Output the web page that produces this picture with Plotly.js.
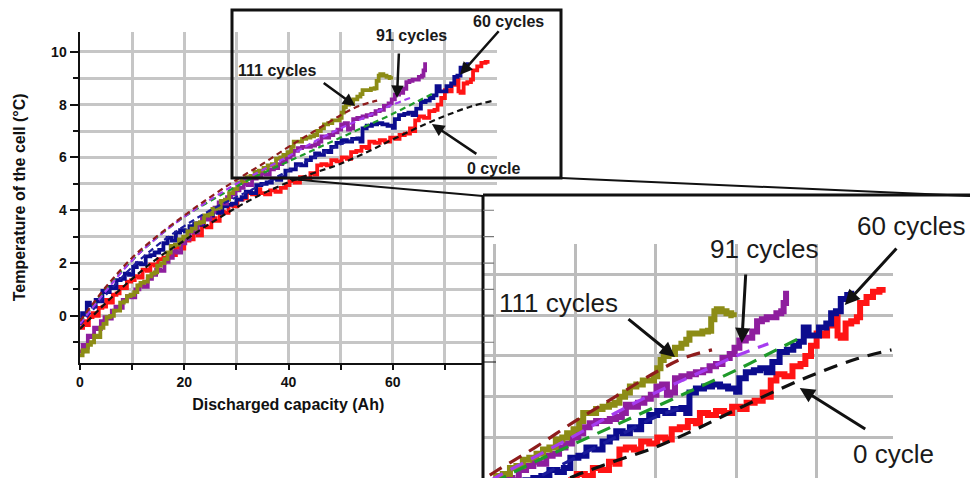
<!DOCTYPE html>
<html>
<head>
<meta charset="utf-8">
<script src="https://cdn.plot.ly/plotly-3.0.1.min.js"></script>
<style>
  html, body { margin: 0; padding: 0; background: #fff; }
  #chart { width: 970px; height: 478px; }
</style>
</head>
<body>
<div id="chart"></div>
<script>
// Cell temperature versus discharged capacity after 0, 60, 91 and 111 cycles,
// measured curves (solid) and fitted models (dashed), with a magnified view.

// ---- measured curves ----
const cycle0Ah = [0.0,0.6,1.1,1.7,2.4,3.0,3.6,4.3,5.0,5.6,6.3,7.0,7.6,8.3,9.0,9.8,10.5,11.3,12.0,12.8,13.5,14.3,15.0,16.0,16.8,17.6,18.4,19.2,20.0,21.0,21.8,22.6,23.4,24.3,25.2,26.0,26.8,27.6,28.5,29.4,30.2,31.2,32.0,33.0,34.0,34.6,35.5,36.5,37.5,38.5,39.5,40.2,41.2,42.2,43.2,44.2,45.0,45.5,46.3,47.3,48.2,49.2,50.2,51.2,52.0,53.0,54.0,55.0,55.5,56.5,57.5,58.5,59.5,60.5,61.3,62.3,63.3,63.8,64.3,65.0,66.0,67.0,68.0,68.6,69.3,70.0,70.8,71.3,72.0,72.6,73.0,73.6,74.3,75.0,75.4,76.2,77.0,77.8,78.2];
const cycle0T  = [-0.45,-0.2,-0.35,-0.05,0.1,0.0,0.3,0.35,0.6,0.5,0.8,0.85,1.1,1.05,1.3,1.35,1.5,1.45,1.75,1.7,1.95,1.9,2.15,2.2,2.35,2.3,2.6,2.55,2.85,2.9,3.15,3.05,3.4,3.35,3.7,3.6,3.95,3.9,4.2,4.15,4.4,4.45,4.65,4.6,4.8,4.65,4.6,4.75,4.7,4.85,4.95,5.1,5.05,5.25,5.2,5.4,5.35,5.7,5.75,5.7,5.9,5.85,6.0,5.95,6.2,6.25,6.4,6.35,6.6,6.55,6.65,6.6,6.75,6.7,6.85,6.9,7.1,7.0,7.4,7.55,7.5,7.75,7.8,8.0,8.25,8.55,8.5,8.75,8.95,8.5,8.45,8.8,8.85,8.95,9.3,9.45,9.58,9.62,9.55];

const cycle60Ah = [0.0,0.4,0.9,1.3,1.9,2.5,3.0,3.6,4.3,5.0,5.7,6.4,7.0,7.8,8.6,9.4,10.2,10.9,11.7,12.6,13.5,14.3,15.2,16.0,16.8,17.6,18.4,19.2,20.1,21.0,21.9,22.8,23.7,24.6,25.5,26.4,27.3,28.2,29.1,30.0,31.0,31.8,32.8,33.8,34.8,35.8,36.8,37.8,38.6,39.4,40.4,41.4,42.4,43.4,44.3,45.1,45.9,46.8,47.6,48.2,49.2,50.2,51.2,52.2,53.2,53.8,54.2,55.0,56.0,57.0,58.0,59.0,60.0,60.4,61.2,62.2,63.0,63.8,64.5,65.4,66.3,67.1,67.8,68.4,69.0,69.6,70.3,71.2,71.8,72.4,73.0,73.8,74.3];
const cycle60T  = [-0.15,0.1,0.05,0.5,0.4,0.35,0.6,0.55,0.95,0.9,1.1,1.05,1.35,1.4,1.6,1.55,1.85,2.0,1.95,2.25,2.3,2.4,2.5,2.75,2.95,2.85,3.15,3.25,3.2,3.4,3.5,3.45,3.75,3.8,3.95,3.9,4.15,4.2,4.25,4.4,4.5,4.7,4.65,4.95,5.0,5.05,5.2,5.15,5.25,5.5,5.55,5.75,5.7,5.9,6.0,6.15,6.1,6.25,6.2,6.4,6.55,6.65,6.6,6.7,6.72,6.6,7.1,7.2,7.25,7.3,7.25,7.2,7.12,7.45,7.6,7.65,7.7,7.6,7.85,8.1,8.15,8.25,8.35,8.7,8.5,8.5,8.7,8.8,9.05,9.1,9.4,9.5,9.6];

const cycle91Ah = [0.0,0.5,1.0,1.5,2.1,2.7,3.3,4.0,4.7,5.4,6.1,6.8,7.5,8.2,9.0,9.8,10.6,11.4,12.2,13.0,13.8,14.6,15.4,16.2,17.0,17.8,18.6,19.4,20.2,21.0,21.8,22.6,23.4,24.2,25.0,25.8,26.6,27.4,28.2,29.0,29.8,30.6,31.4,32.2,33.0,33.9,34.8,35.6,36.4,37.2,38.0,38.8,39.6,40.4,41.0,41.8,42.6,43.5,44.3,45.1,45.8,46.3,47.0,47.8,48.6,49.4,50.1,50.8,51.4,51.8,52.4,53.2,54.2,55.0,55.9,56.7,57.5,58.3,59.2,59.8,60.4,61.2,62.0,62.6,63.2,63.8,64.5,65.0,65.6,65.9,66.2];
const cycle91T  = [-1.35,-1.1,-1.2,-0.75,-0.8,-0.45,-0.5,-0.2,-0.05,-0.1,0.2,0.35,0.3,0.6,0.75,0.7,1.0,1.15,1.1,1.4,1.55,1.75,1.7,2.05,2.2,2.45,2.4,2.75,2.9,3.2,3.15,3.5,3.7,3.65,3.95,4.1,4.3,4.25,4.5,4.6,4.75,4.85,5.0,4.95,5.2,5.3,5.4,5.35,5.55,5.6,5.75,5.85,6.0,6.1,6.25,6.35,6.4,6.4,6.45,6.5,6.6,6.8,6.75,6.85,6.95,7.05,7.25,7.3,7.05,7.1,7.45,7.5,7.55,7.6,7.65,7.75,7.8,7.95,8.05,8.2,8.38,8.45,8.6,8.85,8.9,8.95,8.95,9.05,9.1,9.3,9.6];

const cycle111Ah = [0.0,0.5,1.0,1.5,2.1,2.7,3.3,3.9,4.5,5.1,5.8,6.5,7.1,7.7,8.4,9.0,9.7,10.4,11.0,11.6,12.3,13.0,13.7,14.3,14.8,15.5,16.2,16.8,17.4,18.2,19.0,19.8,20.6,21.4,22.2,23.0,23.8,24.6,25.4,26.2,27.0,27.8,28.6,29.4,30.2,31.0,31.9,32.7,33.5,34.3,35.2,36.0,36.8,37.6,38.4,39.0,39.8,40.5,41.0,41.8,42.6,43.4,44.2,44.9,45.5,46.2,46.8,47.6,48.4,49.2,49.8,50.2,50.6,51.0,51.6,52.4,53.2,53.8,54.2,55.0,55.8,56.5,56.9,57.3,57.6,58.2,58.8,59.4,59.7];
const cycle111T  = [-1.5,-1.3,-1.35,-1.1,-1.0,-0.75,-0.8,-0.45,-0.3,-0.05,0.0,0.2,0.2,0.5,0.55,0.75,0.8,0.9,1.15,1.25,1.3,1.5,1.6,1.65,1.9,2.0,2.15,2.4,2.65,2.7,2.9,3.0,3.2,3.3,3.5,3.55,3.8,3.85,4.05,4.1,4.35,4.4,4.65,4.8,5.05,5.1,5.25,5.3,5.45,5.5,5.6,5.7,5.75,5.95,6.0,6.1,6.2,6.4,6.6,6.6,6.7,6.75,6.8,6.85,7.0,7.1,7.25,7.3,7.4,7.4,7.5,7.7,7.9,8.0,8.05,8.2,8.3,8.4,8.55,8.55,8.6,8.62,8.9,9.1,9.15,9.1,9.05,9.0,8.95];

// ---- fitted models ----
const fit0Ah   = [0,5,10,15,20,25,30,35,40,45,50,55,60,65,70,75,79.3];
const fit0T    = [-0.5,0.5,1.4,2.2,2.85,3.5,4.1,4.62,5.06,5.42,5.76,6.2,6.68,7.15,7.57,7.93,8.15];
const fit60Ah  = [0,5,10,15,20,25,30,35,40,45,50,53.5];
const fit60T   = [-0.35,0.8,1.85,2.7,3.4,4.0,4.5,4.98,5.5,6.0,6.5,6.75];
const fitMidAh = [0,5,10,15,20,25,30,35,40,45,50,55,60,65,68];
const fitMidT  = [-0.25,1.0,2.1,3.0,3.75,4.35,4.9,5.4,5.85,6.3,6.75,7.2,7.65,8.15,8.45];
const fit91Ah  = [0,5,10,15,20,25,30,35,40,45,50,55,60,64];
const fit91T   = [-0.3,0.95,2.1,3.0,3.75,4.4,5.0,5.52,6.05,6.6,7.1,7.55,8.0,8.3];
const fit111Ah = [0,5,10,15,20,25,30,35,40,45,50,53.5,57];
const fit111T  = [-0.2,1.1,2.2,3.05,3.8,4.5,5.15,5.75,6.4,7.0,7.6,7.95,8.15];

// ---- ticks and labels ----
const xTickVals  = [0, 20, 40, 60];
const xTickText  = ['0', '20', '40', '60'];
const xMinorVals = [10, 30, 50, 70];
const yTickVals  = [0, 2, 4, 6, 8, 10];
const yTickText  = ['0', '2', '4', '6', '8', '10'];
const yMinorVals = [-1, 1, 3, 5, 7, 9];
const sideTickVals = [-1, 0, 1, 2, 3, 4];
const seriesLabels = ['0 cycle', '60 cycles', '91 cycles', '111 cycles'];
const xTitle = 'Discharged capacity (Ah)';
const yTitle = 'Temperature of the cell (°C)';

// ---- drawing ----
const W = 970, H = 478;
const fx = p => p / W;
const fy = p => 1 - p / H;
const FONT = 'Liberation Sans, Arial, sans-serif';

const measured = [
  { ah: cycle0Ah,   t: cycle0T,   color: '#ff1414' },
  { ah: cycle60Ah,  t: cycle60T,  color: '#0c0c8e' },
  { ah: cycle91Ah,  t: cycle91T,  color: '#8e1e9e' },
  { ah: cycle111Ah, t: cycle111T, color: '#8c8c16' }
];
const fitted = [
  { ah: fit0Ah,   t: fit0T,   color: '#111111' },
  { ah: fit60Ah,  t: fit60T,  color: '#1c1c9c' },
  { ah: fitMidAh, t: fitMidT, color: '#1f9a2a' },
  { ah: fit91Ah,  t: fit91T,  color: '#a63cf0' },
  { ah: fit111Ah, t: fit111T, color: '#8e1c1c' }
];

function seriesTraces(xa, ya, solidW, dashW, dash) {
  const out = [];
  measured.forEach(s => out.push({
    type: 'scatter', mode: 'lines', x: s.ah, y: s.t, xaxis: xa, yaxis: ya,
    line: { color: s.color, width: solidW, shape: 'hv' }, hoverinfo: 'skip'
  }));
  fitted.forEach(s => out.push({
    type: 'scatter', mode: 'lines', x: s.ah, y: s.t, xaxis: xa, yaxis: ya,
    line: { color: s.color, width: dashW, dash: dash, shape: 'spline' }, hoverinfo: 'skip'
  }));
  return out;
}

const traces = [].concat(
  seriesTraces('x', 'y', 3.8, 2.2, '6px,4px'),
  [{ type: 'scatter', mode: 'lines', x: [], y: [], xaxis: 'x2', yaxis: 'y2', hoverinfo: 'skip' }],
  seriesTraces('x3', 'y3', 6, 3.2, '14px,9px')
);

const gridMain = '#c6c6c6';
const tickFont = { family: FONT, size: 14, color: '#111', weight: 700 };

const layout = {
  width: W, height: H,
  margin: { l: 0, r: 0, t: 0, b: 0 },
  paper_bgcolor: '#ffffff', plot_bgcolor: '#ffffff',
  showlegend: false,
  font: { family: FONT, color: '#111' },
  xaxis: {
    domain: [fx(80), fx(496.5)], range: [0, 79.9], anchor: 'y',
    showline: true, linecolor: '#111', linewidth: 2.5, zeroline: false,
    tickmode: 'array', tickvals: xTickVals, ticktext: xTickText,
    ticks: 'outside', ticklen: 5, tickwidth: 2, tickcolor: '#111', tickfont: tickFont,
    showgrid: true, gridcolor: gridMain, gridwidth: 3,
    minor: { tickmode: 'array', tickvals: xMinorVals, ticks: 'outside', ticklen: 5, tickwidth: 2,
             tickcolor: '#111', showgrid: true, gridcolor: gridMain, gridwidth: 3 },
    title: { text: xTitle, font: { family: FONT, size: 16, color: '#111', weight: 700 }, standoff: 10 }
  },
  yaxis: {
    domain: [fy(362.6), fy(32)], range: [-1.77, 10.75], anchor: 'x',
    showline: true, linecolor: '#111', linewidth: 2.5, zeroline: false,
    tickmode: 'array', tickvals: yTickVals, ticktext: yTickText,
    ticks: 'outside', ticklen: 8, tickwidth: 2, tickcolor: '#111', tickfont: tickFont,
    showgrid: true, gridcolor: gridMain, gridwidth: 3,
    minor: { tickmode: 'array', tickvals: yMinorVals, ticks: 'outside', ticklen: 5, tickwidth: 2,
             tickcolor: '#111', showgrid: true, gridcolor: gridMain, gridwidth: 3 },
    title: { text: yTitle, font: { family: FONT, size: 16, color: '#111', weight: 700 }, standoff: 22 }
  },
  // white panel holding the magnified view
  xaxis2: { domain: [fx(483), 1], range: [0, 1], anchor: 'y2', showgrid: false, zeroline: false,
            showline: false, showticklabels: false, ticks: '' },
  yaxis2: { domain: [0, fy(195)], range: [0, 1], anchor: 'x2', showgrid: false, zeroline: false,
            showline: false, showticklabels: false, ticks: '' },
  // magnified view
  xaxis3: { domain: [fx(483), fx(893.1)], range: [28.55, 79.5], anchor: 'y3',
            tickmode: 'array', tickvals: xTickVals.concat(xMinorVals), showticklabels: false, ticks: '',
            showline: false, zeroline: false, showgrid: true, gridcolor: '#bcbcbc', gridwidth: 3 },
  yaxis3: { domain: [0, fy(244)], range: [5.003, 10.75], anchor: 'x3',
            tickmode: 'array', tickvals: yTickVals.concat(yMinorVals), showticklabels: false, ticks: '',
            showline: false, zeroline: false, showgrid: true, gridcolor: '#bcbcbc', gridwidth: 3 },
  shapes: [],
  annotations: []
};

// frame of the magnified region and its connectors
const black = '#111';
layout.shapes.push(
  { type: 'rect', xref: 'paper', yref: 'paper', x0: fx(232), x1: fx(561), y0: fy(178), y1: fy(10),
    line: { color: black, width: 3 }, fillcolor: 'rgba(0,0,0,0)', layer: 'above' },
  { type: 'line', xref: 'paper', yref: 'paper', x0: fx(290), y0: fy(179), x1: fx(483), y1: fy(196),
    line: { color: black, width: 2 }, layer: 'above' },
  { type: 'line', xref: 'paper', yref: 'paper', x0: fx(561), y0: fy(178), x1: fx(970), y1: fy(196),
    line: { color: black, width: 2 }, layer: 'above' },
  { type: 'line', xref: 'paper', yref: 'paper', x0: fx(483), y0: fy(195), x1: fx(970), y1: fy(195),
    line: { color: black, width: 3 }, layer: 'above' },
  { type: 'line', xref: 'paper', yref: 'paper', x0: fx(483), y0: fy(195), x1: fx(483), y1: 0,
    line: { color: black, width: 3 }, layer: 'above' }
);
sideTickVals.forEach(v => layout.shapes.push({
  type: 'line', xref: 'paper', yref: 'y', x0: fx(483), x1: fx(494), y0: v, y1: v,
  line: { color: '#777', width: 1.2 }, layer: 'above'
}));
layout.shapes.push({
  type: 'line', xref: 'paper', yref: 'y', x0: fx(483), x1: fx(496), y0: -1.77, y1: -1.77,
  line: { color: black, width: 2 }, layer: 'above'
});

// labels
const mainLabelFont  = { family: FONT, size: 16, color: '#1a1a1a', weight: 700 };
const insetLabelFont = { family: FONT, size: 26, color: '#1a1a1a', weight: 400 };
const textAt = (txt, px, py, font) => ({
  text: txt, xref: 'paper', yref: 'paper', x: fx(px), y: fy(py),
  xanchor: 'center', yanchor: 'middle', showarrow: false, font: font
});
layout.annotations.push(
  textAt(seriesLabels[3], 277, 71, mainLabelFont),
  textAt(seriesLabels[2], 411, 36, mainLabelFont),
  textAt(seriesLabels[1], 508, 22, mainLabelFont),
  textAt(seriesLabels[0], 494, 168, mainLabelFont),
  textAt(seriesLabels[3], 558, 303, insetLabelFont),
  textAt(seriesLabels[2], 764, 249, insetLabelFont),
  textAt(seriesLabels[1], 911, 226, insetLabelFont),
  textAt(seriesLabels[0], 893, 454, insetLabelFont)
);

// pointer arrows
const arrow = (xr, yr, x, y, ax, ay, w) => ({
  text: '', xref: xr, yref: yr, x: x, y: y, ax: ax, ay: ay, showarrow: true,
  arrowhead: 2, arrowsize: 1, arrowwidth: w, arrowcolor: '#111', standoff: 0, startstandoff: 0
});
layout.annotations.push(
  arrow('x', 'y', 52.8, 7.95, -33, -24, 2.5),
  arrow('x', 'y', 60.8, 8.25, 2, -46, 2.5),
  arrow('x', 'y', 72.9, 9.13, 40, -45, 2.5),
  arrow('x', 'y', 67.5, 7.27, 46, 31, 2.5),
  arrow('x3', 'y3', 52.4, 7.975, -48, -39, 3),
  arrow('x3', 'y3', 60.7, 8.318, 4, -70, 3),
  arrow('x3', 'y3', 73.5, 9.252, 53, -58, 3),
  arrow('x3', 'y3', 67.9, 7.213, 67, 42, 3)
);

Plotly.newPlot('chart', traces, layout, { staticPlot: true, displayModeBar: false });
</script>
</body>
</html>
